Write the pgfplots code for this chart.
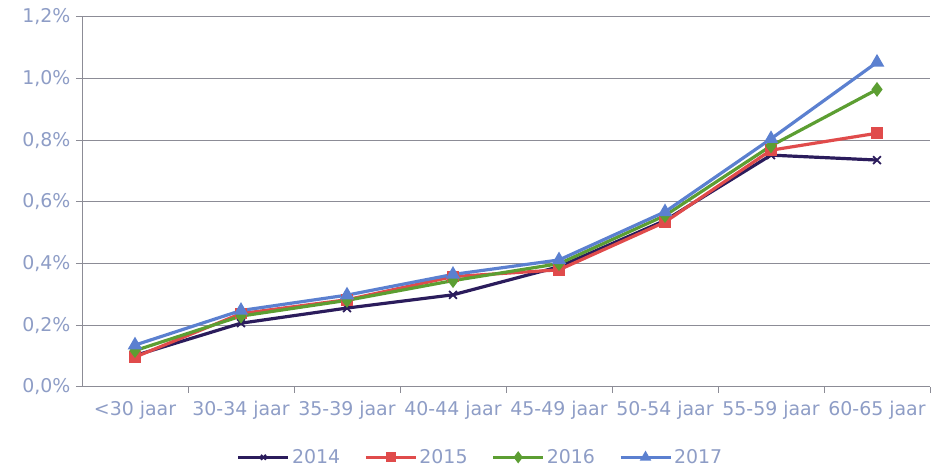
\documentclass[border=0pt]{standalone}
\usepackage{pgfplots}
\pgfplotsset{compat=1.18}
\usepackage{fontspec}
\setmainfont{DejaVu Sans}
\definecolor{txt}{HTML}{8E9DC6}
\definecolor{grd}{HTML}{8C8C96}
\definecolor{c14}{HTML}{2B1C5C}
\definecolor{c15}{HTML}{E04B4B}
\definecolor{c16}{HTML}{5C9E32}
\definecolor{c17}{HTML}{5B80D0}
\begin{document}
\begin{tikzpicture}[x=1bp,y=1bp]
\path (0,0) rectangle (934,466);
\begin{axis}[
  at={(82bp,79bp)}, anchor=south west,
  scale only axis, width=848bp, height=370bp,
  xmin=-0.5, xmax=7.5, ymin=0, ymax=1.2,
  axis lines=left, axis line style={-, grd, line width=1bp},
  xtick={0,...,7},
  xticklabels={<30 jaar,30-34 jaar,35-39 jaar,40-44 jaar,45-49 jaar,50-54 jaar,55-59 jaar,60-65 jaar},
  major x tick style={draw=none},
  minor xtick={0.5,1.5,...,7.5},
  minor x tick style={grd, line width=1bp},
  minor tick length=6bp,
  ytick={0,0.2,...,1.2},
  yticklabels={0{,}0\%,0{,}2\%,0{,}4\%,0{,}6\%,0{,}8\%,1{,}0\%,1{,}2\%},
  ymajorgrids, major grid style={grd, line width=1bp},
  major y tick style={grd, line width=1bp},
  major tick length=6bp,
  tick align=outside,
  xtick pos=bottom, ytick pos=left,
  tick label style={font=\fontsize{19}{22}\selectfont, text=txt},
  xticklabel style={yshift=-5bp},
  yticklabel style={xshift=-2bp},
  /pgf/number format/assume math mode=true,
  clip=false,
  legend style={at={(0.47,-0.19)}, anchor=center, draw=none, fill=none,
    font=\fontsize{19}{22}\selectfont, text=txt, legend columns=4,
    /tikz/every even column/.append style={column sep=22bp}},
  legend image code/.code={
    \draw[#1, mark=none] (0bp,0bp) -- (50bp,0bp);
    \path[#1, mark size=3.5bp] plot coordinates {(25bp,0bp)};
  },
  every axis plot/.append style={line width=3.2bp,
    mark options={solid}},
]
\addplot[c14, mark=x, mark options={line width=1.8bp}, mark size=5.5bp] coordinates {
  (0,0.102) (1,0.207) (2,0.256) (3,0.299) (4,0.390) (5,0.540) (6,0.752) (7,0.736)};
\addplot[c15, mark=square*, mark size=4.2bp] coordinates {
  (0,0.097) (1,0.238) (2,0.283) (3,0.358) (4,0.380) (5,0.535) (6,0.768) (7,0.823)};
\addplot[c16, mark=diamond*, mark size=4.8bp] coordinates {
  (0,0.118) (1,0.230) (2,0.281) (3,0.345) (4,0.400) (5,0.556) (6,0.782) (7,0.965)};
\addplot[c17, mark=triangle*, mark size=5.2bp] coordinates {
  (0,0.136) (1,0.248) (2,0.298) (3,0.365) (4,0.412) (5,0.568) (6,0.805) (7,1.053)};
\legend{2014,2015,2016,2017}
\end{axis}
\end{tikzpicture}
\end{document}
